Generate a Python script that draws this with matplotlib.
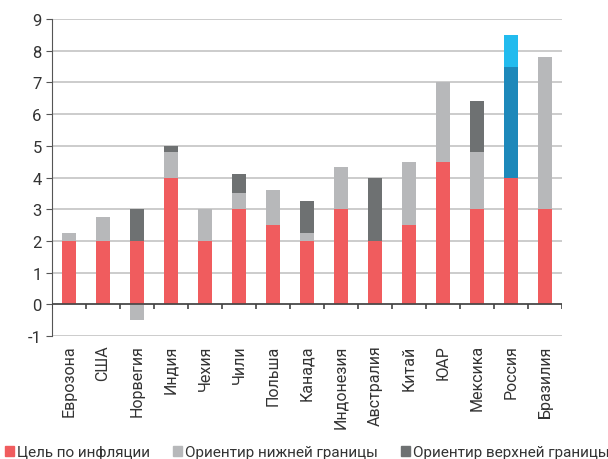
import numpy as np
import matplotlib
matplotlib.use("Agg")
import matplotlib.pyplot as plt
from matplotlib.patches import Rectangle

categories = ["Еврозона", "США", "Норвегия", "Индия", "Чехия", "Чили", "Польша",
              "Канада", "Индонезия", "Австралия", "Китай", "ЮАР", "Мексика",
              "Россия", "Бразилия"]
# цель по инфляции
target = [2, 2, 2, 4, 2, 3, 2.5, 2, 3, 2, 2.5, 4.5, 3, 4, 3]
# ориентир нижней границы (прирост над целью)
lower = [0.25, 0.75, -0.5, 0.8, 1, 0.5, 1.1, 0.25, 1.33, 0, 2, 2.5, 1.8, 0, 4.8]
# ориентир верхней границы
upper = [0, 0, 1, 0.2, 0, 0.6, 0, 1, 0, 2, 0, 0, 1.6, 0, 0]
# Россия - отдельная раскраска
ru_dark = [0] * 13 + [3.5, 0]
ru_light = [0] * 13 + [1, 0]

c_red = "#F05C5E"
c_lgrey = "#B7B8BA"
c_dgrey = "#6E7172"
c_dblue = "#1D88BA"
c_lblue = "#22BBEE"

plt.rcParams["font.family"] = ["Roboto", "DejaVu Sans"]
plt.rcParams["axes.unicode_minus"] = False

fig = plt.figure(figsize=(6.08, 4.6), dpi=100)
ax = fig.add_axes([0.0855, 0.2674, 0.8385, 0.6891])

x = np.arange(len(categories))
t = np.array(target, float)
lo = np.array(lower, float)
up = np.array(upper, float)
rd = np.array(ru_dark, float)
rl = np.array(ru_light, float)

w = 0.4
lo_pos = np.where(lo > 0, lo, 0)
lo_neg = np.where(lo < 0, lo, 0)
ax.bar(x, t, w, color=c_red, zorder=3)
ax.bar(x, lo_pos, w, bottom=t, color=c_lgrey, zorder=3)
ax.bar(x, lo_neg, w, bottom=0, color=c_lgrey, zorder=3)
ax.bar(x, up, w, bottom=t + lo_pos, color=c_dgrey, zorder=3)
ax.bar(x, rd, w, bottom=t + lo_pos + up, color=c_dblue, zorder=3)
ax.bar(x, rl, w, bottom=t + lo_pos + up + rd, color=c_lblue, zorder=3)

ax.set_xlim(-0.5, len(categories) - 0.5)
ax.set_ylim(-1, 9)
ax.set_yticks(range(-1, 10))
ax.yaxis.grid(True, color="#C4C4C4", linewidth=1.2, zorder=0)
ax.set_axisbelow(True)
for s in ["top", "right", "bottom"]:
    ax.spines[s].set_visible(False)
ax.spines["left"].set_color("#555555")
ax.tick_params(axis="y", length=4, color="#555555", labelsize=12, labelcolor="#333333")

# ось X на нуле с рисками между категориями
ax.axhline(0, color="#444444", linewidth=1.2, zorder=4)
ax.vlines(np.arange(len(categories) + 1) - 0.5, -0.15, 0, color="#444444",
          linewidth=1.2, zorder=4)

ax.set_xticks(x)
ax.set_xticklabels(categories, rotation=90, fontsize=11.5, color="#333333")
ax.tick_params(axis="x", length=0, pad=6)

handles = [Rectangle((0, 0), 1, 1, color=c) for c in (c_red, c_lgrey, c_dgrey)]
labels = ["Цель по инфляции", "Ориентир нижней границы", "Ориентир верхней границы"]
fig.legend(handles, labels, loc="lower center", bbox_to_anchor=(0.505, -0.03), ncol=3,
           frameon=False, fontsize=11, handlelength=0.6, handleheight=0.6,
           handletextpad=0.2, columnspacing=1.5, labelcolor="#333333")

fig.savefig("out.png", dpi=100)
